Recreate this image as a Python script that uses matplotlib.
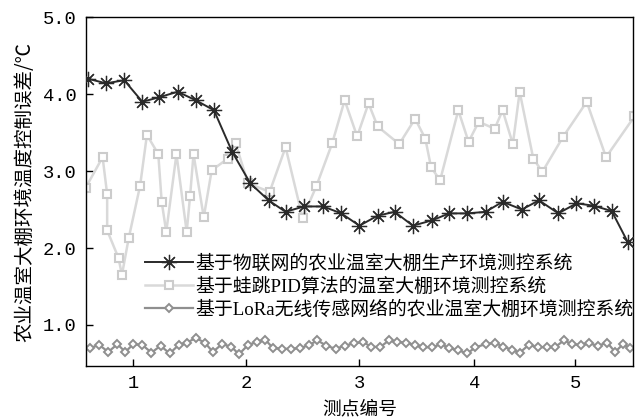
import matplotlib
matplotlib.use('Agg')
from matplotlib import pyplot as plt

# series 1: IoT based system (asterisk markers)
iot_x = [0.60, 0.76, 0.92, 1.08, 1.23, 1.39, 1.55, 1.71, 1.87, 2.03, 2.19,
         2.34, 2.50, 2.67, 2.83, 2.99, 3.15, 3.30, 3.46, 3.63, 3.78, 3.94,
         4.10, 4.25, 4.42, 4.57, 4.74, 4.90, 5.05, 5.21, 5.35]
iot_y = [4.20, 4.14, 4.18, 3.90, 3.96, 4.03, 3.92, 3.79, 3.25, 2.84, 2.62,
         2.47, 2.54, 2.54, 2.45, 2.29, 2.42, 2.47, 2.29, 2.36, 2.45, 2.45,
         2.47, 2.60, 2.50, 2.62, 2.45, 2.58, 2.55, 2.48, 2.08]

# series 2: leapfrog PID system (square markers)
pid_x = [0.58, 0.73, 0.77, 0.77, 0.87, 0.90, 0.96, 1.06, 1.12, 1.22, 1.25,
         1.29, 1.38, 1.47, 1.50, 1.53, 1.62, 1.69, 1.83, 1.90, 2.01, 2.20,
         2.34, 2.49, 2.61, 2.75, 2.86, 2.97, 3.07, 3.15, 3.34, 3.48, 3.57,
         3.62, 3.70, 3.86, 3.95, 4.04, 4.18, 4.25, 4.34, 4.40, 4.52, 4.60,
         4.78, 4.99, 5.16, 5.41]
pid_y = [2.78, 3.18, 2.70, 2.23, 1.87, 1.65, 2.13, 2.81, 3.47, 3.22, 2.60,
         2.21, 3.22, 2.21, 2.68, 3.22, 2.40, 3.01, 3.16, 3.36, 2.84, 2.73,
         3.31, 2.39, 2.80, 3.36, 3.92, 3.45, 3.88, 3.58, 3.35, 3.68, 3.42,
         3.05, 2.88, 3.79, 3.38, 3.64, 3.55, 3.79, 3.35, 4.03, 3.16, 2.99,
         3.44, 3.90, 3.18, 3.71]

# series 3: LoRa system (diamond markers)
lora_x = [0.62, 0.70, 0.78, 0.86, 0.93, 1.00, 1.08, 1.16, 1.24, 1.32, 1.40,
          1.47, 1.55, 1.63, 1.70, 1.78, 1.86, 1.93, 2.01, 2.09, 2.16, 2.23,
          2.31, 2.39, 2.47, 2.55, 2.62, 2.70, 2.78, 2.86, 2.94, 3.02, 3.09,
          3.17, 3.25, 3.32, 3.40, 3.48, 3.55, 3.63, 3.71, 3.78, 3.86, 3.94,
          4.01, 4.10, 4.18, 4.25, 4.33, 4.40, 4.48, 4.56, 4.64, 4.71, 4.79,
          4.86, 4.94, 5.01, 5.09, 5.17, 5.24, 5.31, 5.37]
lora_y = [0.70, 0.74, 0.65, 0.75, 0.65, 0.75, 0.74, 0.64, 0.73, 0.63, 0.74,
          0.77, 0.83, 0.77, 0.65, 0.75, 0.72, 0.62, 0.74, 0.78, 0.81, 0.70,
          0.69, 0.69, 0.70, 0.74, 0.80, 0.73, 0.69, 0.73, 0.76, 0.78, 0.72,
          0.71, 0.80, 0.78, 0.77, 0.74, 0.71, 0.71, 0.75, 0.70, 0.67, 0.63,
          0.71, 0.75, 0.77, 0.72, 0.68, 0.64, 0.74, 0.71, 0.71, 0.71, 0.80,
          0.75, 0.74, 0.76, 0.73, 0.77, 0.65, 0.75, 0.70]

labels = ['基于物联网的农业温室大棚生产环境测控系统',
          '基于蛙跳PID算法的温室大棚环境测控系统',
          '基于LoRa无线传感网络的农业温室大棚环境测控系统']
xtick_pos = [1.0, 1.99, 2.99, 4.0, 4.89]
xtick_labels = ['1', '2', '3', '4', '5']
ytick_pos = [1.0, 2.0, 3.0, 4.0, 5.0]

cjk = ['Liberation Serif', 'Noto Sans CJK SC']
plt.rcParams['font.family'] = cjk

fig = plt.figure(figsize=(6.39, 4.18), dpi=100)
ax = fig.add_axes([0.1346, 0.125, 0.8565, 0.834])

l2, = ax.plot(pid_x, pid_y, color='#d9d9d9', lw=1.8, marker='s', ms=6,
              mfc='white', mec='#cccccc', mew=1.5, label=labels[1], zorder=2)
l1, = ax.plot(iot_x, iot_y, color='#2a2a2a', lw=1.4, marker=(8, 2, 0), ms=11,
              mec='#2a2a2a', mew=0.9, label=labels[0], zorder=3)
l3, = ax.plot(lora_x, lora_y, color='#8f8f8f', lw=1.6, marker='D', ms=4.5,
              mfc='white', mec='#8f8f8f', mew=1.4, label=labels[2], zorder=2)

ax.set_xlim(0.584, 5.40)
ax.set_ylim(0.47, 5.0)
ax.set_xticks(xtick_pos)
ax.set_xticklabels(xtick_labels)
ax.set_yticks(ytick_pos)
ax.set_yticklabels(['%.1f' % v for v in ytick_pos])
ax.tick_params(direction='in', length=5, width=1, pad=7, labelsize=13.5)
for lab in ax.get_xticklabels() + ax.get_yticklabels():
  lab.set_family(['Liberation Mono'])
for s in ax.spines.values():
  s.set_linewidth(1.0)
  s.set_color('black')

ax.set_xlabel('测点编号', fontsize=13.5, labelpad=4, family=['Noto Sans CJK SC'])
ax.set_ylabel('农业温室大棚环境温度控制误差/℃', fontsize=14, labelpad=5,
              family=['Noto Sans CJK SC', 'DejaVu Sans'])

ax.legend(handles=[l1, l2, l3], loc='upper left', bbox_to_anchor=(0.083, 0.358),
          frameon=False, fontsize=13.6, handlelength=2.55, handletextpad=0.15,
          labelspacing=0.27, borderpad=0.2)

fig.savefig('out.png', dpi=100)
